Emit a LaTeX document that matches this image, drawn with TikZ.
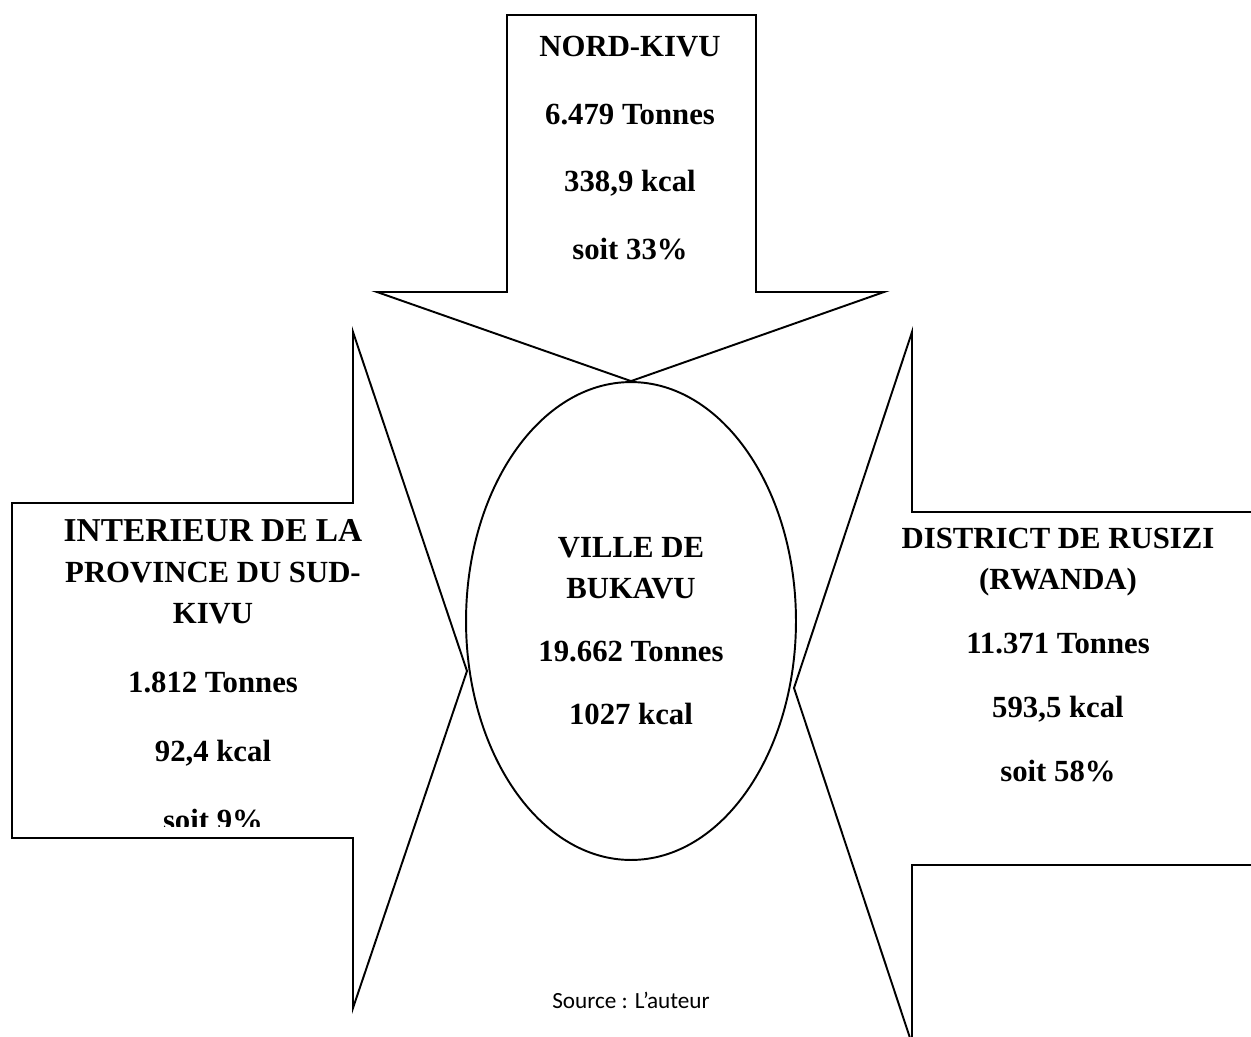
\documentclass[tikz,border=0pt]{standalone}
\usepackage{fontspec}
\setmainfont{Liberation Serif}
\setsansfont{Carlito}
\usetikzlibrary{shapes.geometric}
\tikzset{
  every node/.style={
    text=black
  },
  flow/.style={draw=black, line width=1.1pt, line join=miter},
  town/.style={draw=black, line width=1.1pt, ellipse, minimum width=6.6cm, minimum height=9.56cm, inner sep=0pt},
  lbl/.style={font=\bfseries\fontsize{17.5}{23.3}\selectfont, align=center, inner sep=0pt}
}

\begin{document}
\begin{tikzpicture}[x=0.02cm, y=-0.02cm]
    %\draw[gray, very thin] (0,0) grid[step=100] (1251,1036);
    \clip (0,0) rectangle (1251,1036);
    \node [town] (bukavu) at (631,621) {};
    \coordinate (tipN) at (bukavu.north);
    \coordinate (tipW) at (467,671);
    \coordinate (tipE) at (794,688);
    % Nord-Kivu
    \draw [flow] (377,292) -- (507,292) -- (507,15) -- (756,15) -- (756,292) -- (884,292) -- (tipN) -- cycle;
    % Sud-Kivu
    \draw [flow] (12,503) -- (353,503) -- (353,332) -- (tipW) -- (353,1008) -- (353,838) -- (12,838) -- cycle;
    % Rusizi
    \draw [flow] (1260,512) -- (912,512) -- (912,332) -- (tipE) -- (912,1044) -- (912,865) -- (1260,865);

    \node [lbl] (nord) at (630,148) {NORD-KIVU\\[15.2pt] 6.479 Tonnes\\[15.2pt] 338,9 kcal\\[15.2pt] soit 33\%};
    \begin{scope}
      \clip (12,503) rectangle (420,826);
      \node [lbl] (sud) at (213,675) {\fontsize{19}{23.3}\selectfont INTERIEUR DE LA\\ PROVINCE DU SUD-\\ KIVU\\[16pt] 1.812 Tonnes\\[16pt] 92,4 kcal\\[16pt] soit 9\%};
    \end{scope}
    \node [lbl] (rusizi) at (1058,655) {DISTRICT DE RUSIZI\\ (RWANDA)\\[13.1pt] 11.371 Tonnes\\[13.1pt] 593,5 kcal\\[13.1pt] soit 58\%};
    \node [lbl] (ville) at (631,631) {VILLE DE\\ BUKAVU\\[12.6pt] 19.662 Tonnes\\[12.6pt] 1027 kcal};
    \node [font=\sffamily\fontsize{13.2}{16}\selectfont] (source) at (631,1000) {Source : L’auteur};
\end{tikzpicture}
\end{document}
